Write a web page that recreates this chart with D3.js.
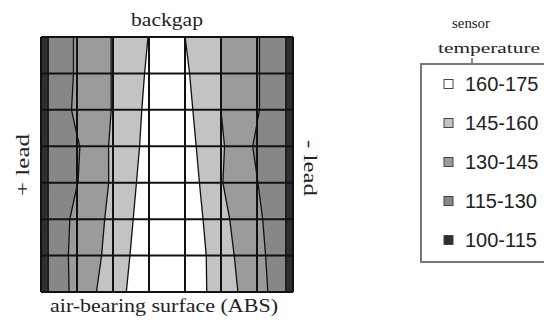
<!DOCTYPE html>
<html>
<head>
<meta charset="utf-8">
<script src="https://cdn.jsdelivr.net/npm/d3@7"></script>
<style>
  body { margin: 0; background: #fff; }
  svg { display: block; }
  .serif { font-family: "Liberation Serif", "DejaVu Serif", serif; fill: #222; }
  .sans { font-family: "Liberation Sans", Arial, sans-serif; fill: #222; }
</style>
</head>
<body>
<div id="chart"></div>
<script>
// sensor temperature at grid nodes, top row = backgap, bottom row = ABS
var row1 = [110.7, 132.1, 145.7, 160.4, 160.05, 145.1, 131.4, 110.9];
var row2 = [110.7, 132.1, 145.7, 162.0, 162.2, 144.9, 131.4, 110.9];
var row3 = [110.4, 133.5, 145.6, 163.6, 164.2, 144.9, 131.4, 110.9];
var row4 = [111.6, 128.5, 147.3, 164.5, 165.9, 146.9, 127.7, 111.8];
var row5 = [111.4, 129.5, 147.1, 166.9, 169.5, 145.8, 130.5, 111.1];
var row6 = [110.0, 135.0, 148.0, 169.4, 171.4, 148.6, 133.7, 110.3];
var row7 = [109.6, 136.4, 149.0, 172.4, 174.4, 150.0, 136.4, 109.6];
var row8 = [109.8, 135.7, 152.9, 172.1, 174.8, 150.3, 139.0, 109.0];

var thresholds = [100, 115, 130, 145, 160];
var bandLabels = ["160-175", "145-160", "130-145", "115-130", "100-115"];
var bandColors = ["#2e2e2e", "#878787", "#9b9b9b", "#c3c3c3", "#ffffff"];

var width = 544, height = 320;
var plotL = 41, plotR = 293, plotT = 37, plotB = 292;

var rows = [row1, row2, row3, row4, row5, row6, row7, row8];
var nx = row1.length, ny = rows.length;
var values = [].concat.apply([], rows);

var svg = d3.select("#chart").append("svg")
  .attr("width", width)
  .attr("height", height);

// contour coords put sample i at i + 0.5
var x = d3.scaleLinear().domain([0.5, nx - 0.5]).range([plotL, plotR]);
var y = d3.scaleLinear().domain([0.5, ny - 0.5]).range([plotT, plotB]);

var path = d3.geoPath(d3.geoTransform({
  point: function(px, py) { this.stream.point(x(px), y(py)); }
}));

svg.append("clipPath").attr("id", "plotclip")
  .append("rect")
  .attr("x", plotL).attr("y", plotT)
  .attr("width", plotR - plotL).attr("height", plotB - plotT);

var contours = d3.contours().size([nx, ny]).thresholds(thresholds)(values);

var g = svg.append("g").attr("clip-path", "url(#plotclip)");

g.selectAll(".band")
  .data(contours)
  .enter().append("path")
  .attr("class", "band")
  .attr("d", path)
  .attr("fill", function(d, i) { return bandColors[i]; })
  .attr("stroke", "none");

g.selectAll(".iso")
  .data(contours.slice(1))
  .enter().append("path")
  .attr("class", "iso")
  .attr("d", path)
  .attr("fill", "none")
  .attr("stroke", "#111")
  .attr("stroke-width", 1.3);

// grid lines at the data nodes
var gx = d3.scaleLinear().domain([0, nx - 1]).range([plotL, plotR]);
var gy = d3.scaleLinear().domain([0, ny - 1]).range([plotT, plotB]);

svg.append("g").selectAll("line")
  .data(d3.range(nx))
  .enter().append("line")
  .attr("x1", gx).attr("x2", gx)
  .attr("y1", plotT).attr("y2", plotB)
  .attr("stroke", "#111").attr("stroke-width", 2);

svg.append("g").selectAll("line")
  .data(d3.range(ny))
  .enter().append("line")
  .attr("y1", gy).attr("y2", gy)
  .attr("x1", plotL).attr("x2", plotR)
  .attr("stroke", "#111").attr("stroke-width", 2);

// side labels
svg.append("text").attr("class", "serif")
  .attr("x", (plotL + plotR) / 2).attr("y", 26)
  .attr("text-anchor", "middle")
  .attr("font-size", 18)
  .attr("textLength", 72).attr("lengthAdjust", "spacingAndGlyphs")
  .text("backgap");

svg.append("text").attr("class", "serif")
  .attr("x", 164).attr("y", 312)
  .attr("text-anchor", "middle")
  .attr("font-size", 18)
  .attr("textLength", 228).attr("lengthAdjust", "spacingAndGlyphs")
  .text("air-bearing surface (ABS)");

svg.append("text").attr("class", "serif")
  .attr("transform", "translate(29,165) rotate(-90)")
  .attr("text-anchor", "middle")
  .attr("font-size", 18)
  .attr("textLength", 62).attr("lengthAdjust", "spacingAndGlyphs")
  .text("+ lead");

svg.append("text").attr("class", "serif")
  .attr("transform", "translate(304,168) rotate(90)")
  .attr("text-anchor", "middle")
  .attr("font-size", 18)
  .attr("textLength", 56).attr("lengthAdjust", "spacingAndGlyphs")
  .text("- lead");

// legend
var legend = svg.append("g");

legend.append("text").attr("class", "serif")
  .attr("x", 471).attr("y", 28)
  .attr("text-anchor", "middle")
  .attr("font-size", 15)
  .attr("textLength", 38).attr("lengthAdjust", "spacingAndGlyphs")
  .text("sensor");

legend.append("text").attr("class", "serif")
  .attr("x", 489).attr("y", 53)
  .attr("text-anchor", "middle")
  .attr("font-size", 15)
  .attr("textLength", 102).attr("lengthAdjust", "spacingAndGlyphs")
  .text("temperature");

legend.append("line")
  .attr("x1", 472).attr("x2", 472).attr("y1", 58).attr("y2", 64)
  .attr("stroke", "#666").attr("stroke-width", 1.5);

legend.append("rect")
  .attr("x", 421).attr("y", 64)
  .attr("width", 160).attr("height", 198)
  .attr("fill", "none")
  .attr("stroke", "#777").attr("stroke-width", 2);

var ly = d3.scalePoint().domain(bandLabels).range([84, 240]);
var legendFill = bandColors.slice().reverse();

legend.selectAll(".sw")
  .data(bandLabels)
  .enter().append("rect")
  .attr("class", "sw")
  .attr("x", 444).attr("y", function(d) { return ly(d) - 4.5; })
  .attr("width", 9).attr("height", 9)
  .attr("fill", function(d, i) { return legendFill[i]; })
  .attr("stroke", "#444").attr("stroke-width", 1);

legend.selectAll(".lbl")
  .data(bandLabels)
  .enter().append("text")
  .attr("class", "sans")
  .attr("x", 465).attr("y", function(d) { return ly(d) + 7; })
  .attr("font-size", 20)
  .text(function(d) { return d; });
</script>
</body>
</html>
